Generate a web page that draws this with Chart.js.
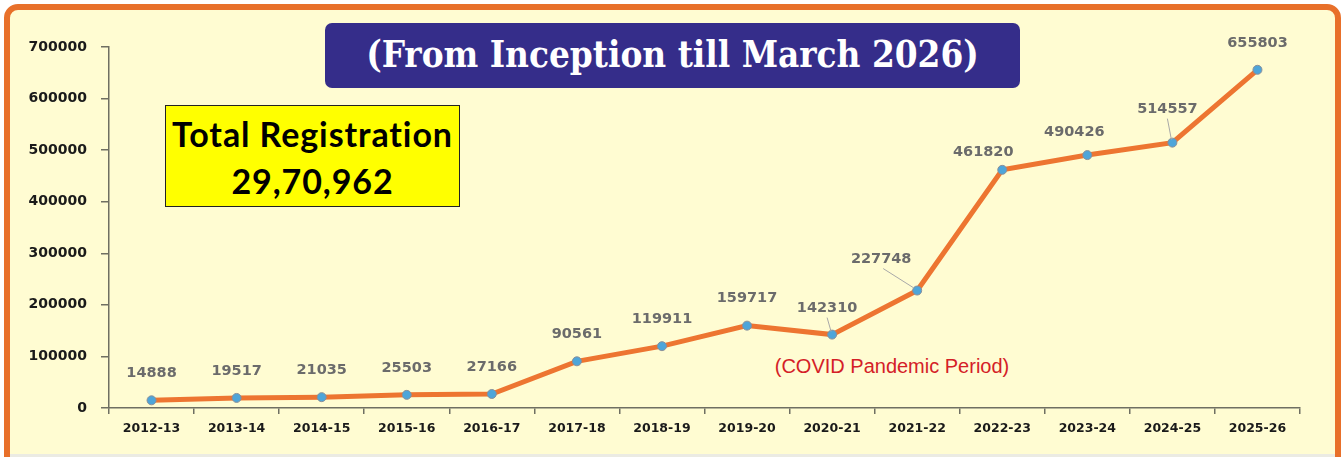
<!DOCTYPE html>
<html>
<head>
<meta charset="utf-8">
<script src="https://cdn.jsdelivr.net/npm/chart.js@4.4.1/dist/chart.umd.min.js"></script>
<style>
  html,body{margin:0;padding:0;background:#fff;overflow:hidden;}
  #wrap{position:relative;width:1343px;height:457px;overflow:hidden;}
  #frame{position:absolute;left:4px;top:4px;width:1325px;height:470px;border:6px solid #e8702a;border-radius:14px;background:#fffcd2;}
  #strip{position:absolute;left:10px;top:454px;width:1325px;height:3px;background:#ebebe3;}
  #title{position:absolute;left:325px;top:23px;width:695px;height:65px;background:#352d8a;border-radius:7px;color:#fff;
    font-family:"DejaVu Serif",serif;font-weight:bold;font-stretch:condensed;font-size:36.5px;line-height:63px;text-align:center;white-space:nowrap;}
  #total{position:absolute;left:165px;top:105px;width:295px;height:102px;background:#ffff00;border:1.5px solid #222;box-sizing:border-box;
    font:bold 34px Lato,"Liberation Sans",sans-serif;letter-spacing:0.9px;line-height:47px;text-align:center;color:#000;padding-top:4px;}
  #covid{position:absolute;left:752px;top:355px;width:280px;text-align:center;color:#d42027;font:20px "Liberation Sans",Arial,sans-serif;}
  canvas{position:absolute;left:0;top:0;}
</style>
</head>
<body>
<div id="wrap">
  <div id="frame"></div>
  <div id="strip"></div>
  <div id="title">(From Inception till March 2026)</div>
  <div id="total">Total Registration<br>29,70,962</div>
  <div id="covid">(COVID Pandemic Period)</div>
  <canvas id="lineChart" width="1343" height="457"></canvas>
</div>
<script>
// registrations per financial year
const years = ['2012-13','2013-14','2014-15','2015-16','2016-17','2017-18','2018-19','2019-20','2020-21','2021-22','2022-23','2023-24','2024-25','2025-26'];
const registrations = [14888,19517,21035,25503,27166,90561,119911,159717,142310,227748,461820,490426,514557,655803];
const yTicks = [0,100000,200000,300000,400000,500000,600000,700000];

// label nudges: [dx, dy, leader line]
const labelShift = {8:[-5,-26,true], 9:[-36,-31,true], 10:[-19,-18,false], 11:[-13,-23,false], 12:[-5,-33,true]};

const valueLabels = {
  id:'valueLabels',
  afterDatasetsDraw(chart){
    const ctx = chart.ctx;
    const pts = chart.getDatasetMeta(0).data;
    ctx.save();
    ctx.font = 'bold 14.5px "DejaVu Sans", sans-serif';
    ctx.textAlign = 'center';
    ctx.textBaseline = 'middle';
    pts.forEach((p,i)=>{
      const s = labelShift[i] || [0,-27,false];
      const lx = p.x + s[0], ly = p.y + s[1];
      if(s[2]){
        ctx.strokeStyle = '#a8a8a8'; ctx.lineWidth = 1;
        ctx.beginPath();
        ctx.moveTo(lx + (s[0] < -20 ? 2 : 0), ly + 9);
        ctx.lineTo(p.x - (s[0] < -20 ? 4 : 1), p.y - 3);
        ctx.stroke();
      }
      ctx.fillStyle = '#6b6b6b';
      ctx.fillText(String(registrations[i]), lx, ly);
    });
    ctx.restore();
  }
};

const axisColor = '#6f6f62';

new Chart(document.getElementById('lineChart').getContext('2d'), {
  type:'line',
  data:{labels:years, datasets:[{
    data:registrations,
    borderColor:'#ed7531', borderWidth:5,
    pointRadius:4.5, pointBackgroundColor:'#4ea5d9', pointBorderColor:'#8a8f99', pointBorderWidth:1,
    tension:0
  }]},
  options:{
    responsive:false, animation:false,
    layout:{padding:{left:0,right:43,top:47,bottom:0}},
    plugins:{legend:{display:false}, tooltip:{enabled:false}},
    scales:{
      x:{
        offset:true,
        afterFit(s){ s.height = 49; },
        grid:{drawOnChartArea:false, offset:true, tickLength:6, color:axisColor, lineWidth:1.5},
        border:{color:axisColor, width:1.5},
        ticks:{color:'#1a1a1a', padding:7, maxRotation:0, autoSkip:false, font:{family:'"DejaVu Sans"', weight:'bold', size:12.5}}
      },
      y:{
        min:0, max:700000,
        afterFit(s){ s.width = 109; },
        afterBuildTicks(s){ s.ticks = yTicks.map(v=>({value:v})); },
        grid:{drawOnChartArea:false, tickLength:8, color:axisColor, lineWidth:1.5},
        border:{color:axisColor, width:1.5},
        ticks:{color:'#1a1a1a', padding:14, font:{family:'"DejaVu Sans"', weight:'bold', size:14}, callback:v=>String(v)}
      }
    }
  },
  plugins:[valueLabels]
});
</script>
</body>
</html>
